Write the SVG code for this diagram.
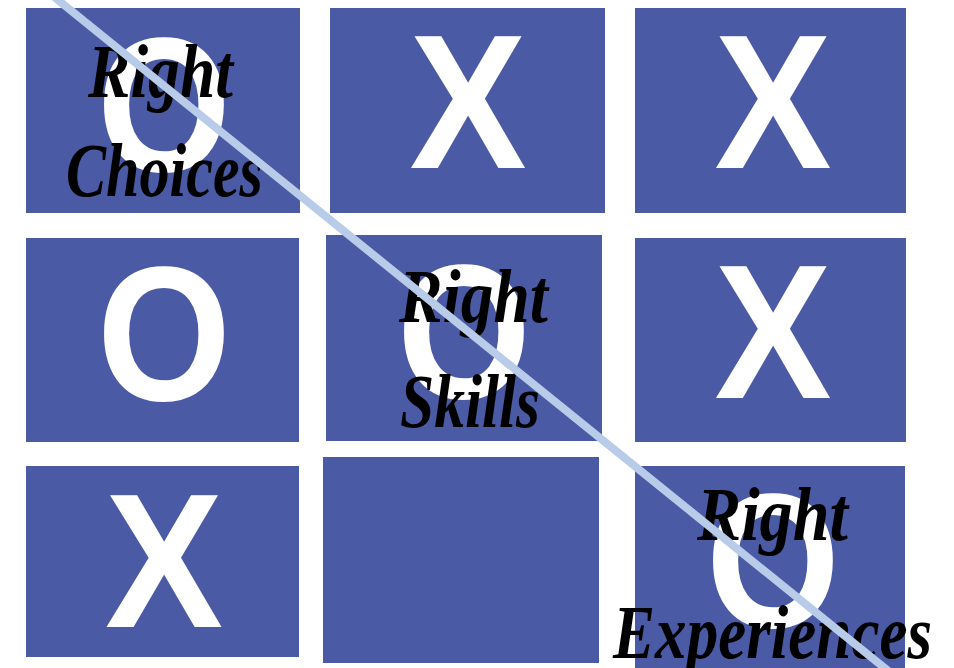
<svg xmlns="http://www.w3.org/2000/svg" width="954" height="668" viewBox="0 0 954 668">
<style>
.cell{fill:#4b5aa5}
.mark{fill:#ffffff;font-family:"Liberation Sans",Arial,sans-serif;font-weight:bold;font-size:192px;text-anchor:middle}
.lbl{fill:#000000;font-family:"Liberation Serif","Times New Roman",serif;font-style:italic;font-weight:bold;font-size:76px}
.diag{stroke:#b8cbe9;stroke-width:8;fill:none}
</style>
<rect x="0" y="0" width="954" height="668" fill="#ffffff"/>
<g id="cell-r1c1"><rect class="cell" x="26" y="8" width="274" height="205"/><text class="mark" x="164" y="171" textLength="134" lengthAdjust="spacingAndGlyphs">O</text></g>
<g id="cell-r1c2"><rect class="cell" x="330" y="8" width="275" height="205"/><text class="mark" x="468" y="168" textLength="117" lengthAdjust="spacingAndGlyphs">X</text></g>
<g id="cell-r1c3"><rect class="cell" x="635" y="8" width="271" height="205"/><text class="mark" x="773" y="168" textLength="117" lengthAdjust="spacingAndGlyphs">X</text></g>
<g id="cell-r2c1"><rect class="cell" x="26" y="238" width="273" height="204"/><text class="mark" x="164" y="400" textLength="134" lengthAdjust="spacingAndGlyphs">O</text></g>
<g id="cell-r2c2"><rect class="cell" x="326" y="235" width="276" height="206"/><text class="mark" x="464" y="398" textLength="134" lengthAdjust="spacingAndGlyphs">O</text></g>
<g id="cell-r2c3"><rect class="cell" x="635" y="238" width="271" height="204"/><text class="mark" x="773" y="398" textLength="117" lengthAdjust="spacingAndGlyphs">X</text></g>
<g id="cell-r3c1"><rect class="cell" x="26" y="466" width="273" height="191"/><text class="mark" x="164" y="627" textLength="118" lengthAdjust="spacingAndGlyphs">X</text></g>
<g id="cell-r3c2"><rect class="cell" x="323" y="457" width="276" height="206"/></g>
<g id="cell-r3c3"><rect class="cell" x="635" y="466" width="270" height="202"/><text class="mark" x="773" y="627" textLength="134" lengthAdjust="spacingAndGlyphs">O</text></g>
<g id="labels">
<text class="lbl" x="88" y="97" textLength="145" lengthAdjust="spacingAndGlyphs">Right</text>
<text class="lbl" x="66" y="196" textLength="197" lengthAdjust="spacingAndGlyphs">Choices</text>
<text class="lbl" x="399" y="322" textLength="149" lengthAdjust="spacingAndGlyphs">Right</text>
<text class="lbl" x="400" y="427" textLength="140" lengthAdjust="spacingAndGlyphs">Skills</text>
<text class="lbl" x="697" y="540" textLength="151" lengthAdjust="spacingAndGlyphs">Right</text>
<text class="lbl" x="613" y="658" textLength="319" lengthAdjust="spacingAndGlyphs">Experiences</text>
</g>
<g id="connectors"><line class="diag" x1="45.6" y1="-10" x2="897" y2="678"/></g>
</svg>
